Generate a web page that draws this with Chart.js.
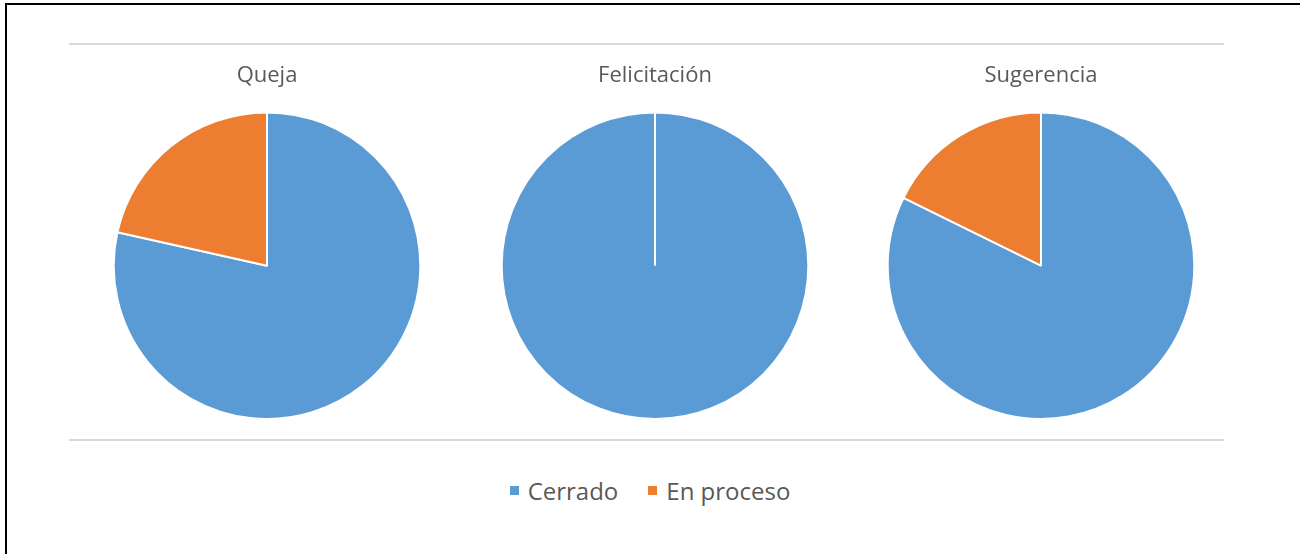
<!DOCTYPE html>
<html>
<head>
<meta charset="utf-8">
<script src="https://cdn.jsdelivr.net/npm/chart.js@4.4.0/dist/chart.umd.min.js"></script>
<style>
  html, body { margin: 0; padding: 0; background: #fff; }
  body { width: 1300px; height: 554px; position: relative; overflow: hidden; font-family: "Open Sans", sans-serif; }
  #frameTop { position: absolute; left: 5px; top: 3px; width: 1295px; height: 2px; background: #000; }
  #frameLeft { position: absolute; left: 5px; top: 3px; width: 2px; height: 551px; background: #000; }
  .hline { position: absolute; left: 69px; width: 1155px; height: 2px; background: #d9d9d9; }
  .box { position: absolute; top: 50px; width: 360px; height: 380px; }
  #legend { position: absolute; left: 0; width: 1300px; top: 473px; height: 34px; display: flex; justify-content: center; align-items: center; color: #595959; font-size: 24px; }
  .item { display: flex; align-items: center; margin: 0 15px; }
  .sw { width: 9px; height: 9px; margin-right: 9px; }
</style>
</head>
<body>
<div id="frameTop"></div>
<div id="frameLeft"></div>
<div class="hline" style="top:43px"></div>
<div class="hline" style="top:439px"></div>
<div class="box" style="left:87px"><canvas id="c0"></canvas></div>
<div class="box" style="left:475px"><canvas id="c1"></canvas></div>
<div class="box" style="left:861px"><canvas id="c2"></canvas></div>
<div id="legend"></div>
<script>
const statusLabels = ["Cerrado", "En proceso"];
const chartTitles = ["Queja", "Felicitación", "Sugerencia"];
const quejaValues = [78.5, 21.5];
const felicitacionValues = [100, 0];
const sugerenciaValues = [82.3, 17.7];
const statusColors = ["#5B9BD5", "#ED7D31"];

const allValues = [quejaValues, felicitacionValues, sugerenciaValues];

allValues.forEach((vals, i) => {
  new Chart(document.getElementById("c" + i), {
    type: "pie",
    data: {
      labels: statusLabels,
      datasets: [{
        data: vals,
        backgroundColor: statusColors,
        borderColor: "#ffffff",
        borderWidth: 2
      }]
    },
    options: {
      responsive: true,
      maintainAspectRatio: false,
      animation: false,
      layout: { padding: { top: 0, bottom: 10, left: 0, right: 0 } },
      plugins: {
        legend: { display: false },
        tooltip: { enabled: false },
        title: {
          display: true,
          text: chartTitles[i],
          color: "#595959",
          font: { family: "Open Sans", size: 22, weight: "normal", lineHeight: 1.2 },
          padding: { top: 13, bottom: 22 }
        }
      }
    }
  });
});

const legend = document.getElementById("legend");
statusLabels.forEach((lab, i) => {
  const it = document.createElement("div");
  it.className = "item";
  const sw = document.createElement("div");
  sw.className = "sw";
  sw.style.background = statusColors[i];
  const tx = document.createElement("span");
  tx.textContent = lab;
  it.appendChild(sw);
  it.appendChild(tx);
  legend.appendChild(it);
});
</script>
</body>
</html>
